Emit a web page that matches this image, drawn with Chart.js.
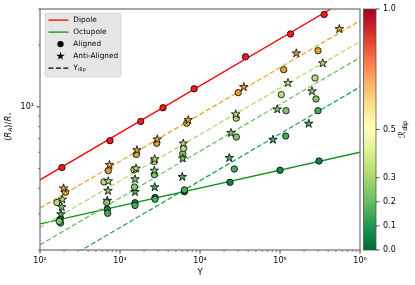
<!DOCTYPE html>
<html>
<head>
<meta charset="utf-8">
<script src="https://cdn.jsdelivr.net/npm/chart.js@4.4.1/dist/chart.umd.min.js"></script>
<style>
  html, body { margin: 0; padding: 0; background: #fff; }
  #wrap { width: 415px; height: 285px; }
</style>
</head>
<body>
<div id="wrap"><canvas id="myChart" width="415" height="285"></canvas></div>
<script>
// R_dip of each group of runs (1 = pure dipole, 0 = pure octupole)
const rdip = [1.0, 0.5, 0.3, 0.2, 0.1, 0.0];

// aligned runs (circles): Upsilon, <R_A>/R*
const alignedUps = [
  [188, 750, 1815, 3450, 8460, 37070, 135200, 356800],
  [208, 714, 1600, 2876, 6823, 30030, 111200, 298500],
  [163, 631, 1496, 2661, 6252, 28440, 103800, 273800],
  [174, 682, 1518, 2685, 6081, 28440, 118900, 281800],
  [181, 702, 1540, 2738, 6397, 26850, 117800, 298500],
  [178, 694, 1540, 2738, 6368, 23710, 100000, 307300]
];
const alignedRA = [
  [5.05, 6.83, 8.48, 9.89, 12.24, 17.54, 22.65, 28.2],
  [3.83, 4.88, 5.85, 6.64, 8.31, 11.72, 15.17, 18.78],
  [3.41, 4.30, 4.92, 5.40, 6.27, 8.80, 11.46, 13.82],
  [2.76, 3.41, 4.06, 4.67, 5.89, 7.12, 9.57, 10.92],
  [2.71, 3.02, 3.30, 3.54, 3.93, 4.97, 7.20, 9.57],
  [2.82, 3.16, 3.40, 3.61, 3.85, 4.28, 4.90, 5.44]
];

// anti-aligned runs (stars)
const antiUps = [
  [],
  [197, 739, 1631, 2926, 7140, 35280, 159900, 550800],
  [190, 714, 1585, 2716, 6180, 27930, 125900, 342000],
  [187, 708, 1540, 2685, 6081, 24410, 92470, 251200],
  [183, 694, 1540, 2716, 6012, 23230, 81750, 228600],
  []
];
const antiRA = [
  [],
  [4.00, 5.20, 6.14, 6.94, 8.62, 12.49, 18.24, 23.96],
  [3.53, 4.33, 5.00, 5.55, 6.62, 9.19, 13.07, 16.30],
  [3.24, 3.89, 4.43, 4.88, 5.60, 7.45, 9.72, 11.90],
  [2.99, 3.48, 3.84, 4.05, 4.55, 5.63, 6.91, 8.27],
  []
];

// fits: dipole (solid), Y_dip for each mixed case (dashed), octupole (solid)
const fitUps = [100, 1e6];
const fitRA = [
  [4.40, 36.4],
  [3.20, 26.3],
  [2.58, 20.8],
  [2.12, 17.4],
  [1.52, 12.5],
  [2.68, 6.00]
];

const xMajor = [1e2, 1e3, 1e4, 1e5, 1e6];
const xTickLabels = ['10²', '10³', '10⁴', '10⁵', '10⁶'];
const yMajor = [10];
const yTickLabels = ['10¹'];
const cbarTicks = [0.0, 0.1, 0.2, 0.3, 0.5, 1.0];

// styles
const pointColors = ['#f01c1c', '#dca13a', '#b6dc7c', '#7fc56c', '#46aa5d', '#17843f'];
const lineColors = ['#ff0000', '#e6a82e', '#afdb76', '#70c06a', '#2a9f5a', '#13901a'];
const cmapStops = ['#006837', '#1a9850', '#66bd63', '#a6d96a', '#d9ef8b', '#ffffbf',
                   '#fee08b', '#fdae61', '#f46d43', '#d73027', '#a50026'];
const FONT = 'DejaVu Sans';
const STAR_R = 4.5;

function minorTicks(majors, lo, hi) {
  let out = [];
  majors.forEach(m => {
    for (let k = 1; k < 10; k++) {
      let v = m * k / 10;
      if (v >= lo - 1e-9 && v <= hi + 1e-9) out.push(v);
      v = m * k;
      if (k > 1 && v >= lo - 1e-9 && v <= hi + 1e-9) out.push(v);
    }
  });
  out = out.concat(majors);
  return [...new Set(out.map(v => +v.toPrecision(6)))].sort((a, b) => a - b);
}
const xTicks = minorTicks(xMajor, 100, 1e6);
const yTicks = minorTicks(yMajor, 2, 30);

function starPath(ctx, x, y, R) {
  ctx.beginPath();
  for (let i = 0; i < 10; i++) {
    const r = i % 2 ? R * 0.382 : R;
    const a = -Math.PI / 2 + i * Math.PI / 5;
    ctx.lineTo(x + r * Math.cos(a), y + r * Math.sin(a));
  }
  ctx.closePath();
}

const datasets = [];
fitRA.forEach((ra, i) => {
  datasets.push({
    data: fitUps.map((u, j) => ({x: u, y: ra[j]})),
    showLine: true,
    borderColor: lineColors[i],
    borderWidth: 1.3,
    borderDash: (i === 0 || i === fitRA.length - 1) ? [] : [5, 2.4],
    pointRadius: 0,
    order: 2
  });
});
rdip.forEach((r, i) => {
  if (antiUps[i].length) {
    datasets.push({
      data: antiUps[i].map((u, j) => ({x: u, y: antiRA[i][j]})),
      pointStyle: false,   // drawn as filled stars by the starPoints plugin
      pointRadius: 4,
      backgroundColor: pointColors[i],
      star: true,
      order: 1
    });
  }
  datasets.push({
    data: alignedUps[i].map((u, j) => ({x: u, y: alignedRA[i][j]})),
    pointStyle: 'circle',
    pointRadius: 3.2,
    backgroundColor: pointColors[i],
    borderColor: '#000',
    borderWidth: 0.8,
    order: 1
  });
});

const starPoints = {
  id: 'starPoints',
  afterDatasetDraw(chart, args) {
    const ds = chart.data.datasets[args.index];
    if (!ds.star) return;
    const ctx = chart.ctx;
    ctx.save();
    ctx.fillStyle = ds.backgroundColor;
    ctx.strokeStyle = '#000';
    ctx.lineWidth = 0.8;
    ctx.lineJoin = 'miter';
    args.meta.data.forEach(el => {
      starPath(ctx, el.x, el.y, STAR_R);
      ctx.fill(); ctx.stroke();
    });
    ctx.restore();
  }
};

// rich text helper: parts = [text, 'r'|'i'|'sr'|'si']
function drawMath(ctx, parts, x, y, size) {
  const fontOf = p => (p[1].includes('i') ? 'italic ' : '') +
    (p[1][0] === 's' ? size * 0.7 : size) + 'px "' + FONT + '"';
  let w = 0;
  parts.forEach(p => { ctx.font = fontOf(p); w += ctx.measureText(p[0]).width; });
  let cx = x - w / 2;
  parts.forEach(p => {
    ctx.font = fontOf(p);
    ctx.fillText(p[0], cx, y + (p[1][0] === 's' ? size * 0.22 : 0));
    cx += ctx.measureText(p[0]).width;
  });
}

const decor = {
  id: 'decor',
  afterDraw(chart) {
    const {ctx, chartArea: a, scales} = chart;
    const sx = scales.x, sy = scales.y, cb = scales.cb;
    ctx.save();

    // tick marks
    ctx.strokeStyle = '#222';
    sx.ticks.forEach(t => {
      const p = sx.getPixelForValue(t.value);
      const major = xMajor.includes(t.value);
      ctx.lineWidth = major ? 0.9 : 0.6;
      ctx.beginPath(); ctx.moveTo(p, a.bottom); ctx.lineTo(p, a.bottom + (major ? 3.5 : 2)); ctx.stroke();
    });
    sy.ticks.forEach(t => {
      const p = sy.getPixelForValue(t.value);
      const major = yMajor.includes(t.value);
      ctx.lineWidth = major ? 0.9 : 0.6;
      ctx.beginPath(); ctx.moveTo(a.left, p); ctx.lineTo(a.left - (major ? 3.5 : 2), p); ctx.stroke();
    });

    // frame
    ctx.strokeStyle = '#6e6e6e';
    ctx.lineWidth = 1.2;
    ctx.strokeRect(a.left, a.top, a.right - a.left, a.bottom - a.top);

    // colorbar
    const x0 = a.right + 3.5, w = 12.5;
    const yb = cb.getPixelForValue(0), yt = cb.getPixelForValue(1);
    const grad = ctx.createLinearGradient(0, yb, 0, yt);
    cmapStops.forEach((c, i) => grad.addColorStop(i / (cmapStops.length - 1), c));
    ctx.fillStyle = grad;
    ctx.fillRect(x0, yt, w, yb - yt);
    ctx.strokeStyle = '#555';
    ctx.lineWidth = 0.8;
    ctx.strokeRect(x0, yt, w, yb - yt);
    ctx.strokeStyle = '#222';
    cbarTicks.forEach(v => {
      const p = cb.getPixelForValue(v);
      ctx.beginPath(); ctx.moveTo(x0 + w, p); ctx.lineTo(x0 + w + 3.5, p); ctx.stroke();
    });

    // axis titles
    ctx.fillStyle = '#000';
    ctx.textBaseline = 'middle';
    ctx.save();
    ctx.translate(9, (a.top + a.bottom) / 2 - 3);
    ctx.rotate(-Math.PI / 2);
    drawMath(ctx, [['⟨', 'r'], ['R', 'i'], ['A', 'si'], ['⟩', 'r'], ['/', 'r'], ['R', 'i'], ['⋆', 'sr']], 0, 0, 8.5);
    ctx.restore();
    ctx.save();
    ctx.translate(403, (a.top + a.bottom) / 2);
    ctx.rotate(-Math.PI / 2);
    drawMath(ctx, [['ℛ', 'r'], ['dip', 'sr']], 0, 0, 9);
    ctx.restore();

    // legend
    const lx = a.left + 5, ly = a.top + 4.3, lw = 76, lh = 63.5;
    ctx.fillStyle = 'rgba(229,229,229,0.95)';
    ctx.strokeStyle = '#cfcfcf';
    ctx.lineWidth = 0.8;
    ctx.beginPath();
    ctx.roundRect(lx, ly, lw, lh, 2);
    ctx.fill(); ctx.stroke();
    const rows = [
      {kind: 'line', color: lineColors[0], dash: [], text: [['Dipole', 'r']]},
      {kind: 'line', color: lineColors[5], dash: [], text: [['Octupole', 'r']]},
      {kind: 'circle', text: [['Aligned', 'r']]},
      {kind: 'star', text: [['Anti-Aligned', 'r']]},
      {kind: 'line', color: '#000', dash: [5, 2.4], text: [['Υ', 'r'], ['dip', 'sr']]}
    ];
    rows.forEach((r, i) => {
      const yy = ly + 6.8 + i * 12;
      const hx = lx + 3.5, hw = 20;
      if (r.kind === 'line') {
        ctx.strokeStyle = r.color; ctx.lineWidth = 1.3; ctx.setLineDash(r.dash);
        ctx.beginPath(); ctx.moveTo(hx, yy); ctx.lineTo(hx + hw, yy); ctx.stroke();
        ctx.setLineDash([]);
      } else if (r.kind === 'circle') {
        ctx.fillStyle = '#000';
        ctx.beginPath(); ctx.arc(hx + hw / 2 + 2, yy, 3.2, 0, Math.PI * 2); ctx.fill();
      } else {
        ctx.fillStyle = '#000';
        starPath(ctx, hx + hw / 2 + 2, yy, STAR_R);
        ctx.fill();
      }
      ctx.fillStyle = '#000';
      ctx.textAlign = 'left';
      let cx = lx + 28.3;
      r.text.forEach(p => {
        const sub = p[1][0] === 's';
        ctx.font = (sub ? 5.2 : 7.4) + 'px "' + FONT + '"';
        ctx.fillText(p[0], cx, yy + (sub ? 1.8 : 0));
        cx += ctx.measureText(p[0]).width;
      });
    });
    ctx.restore();
  }
};

const tickFont = {family: FONT, size: 8};
// tick marks are drawn by the decor plugin; tickLength only spaces the labels
const hiddenGrid = len => ({display: false, drawTicks: true, tickLength: len});
new Chart(document.getElementById('myChart'), {
  type: 'scatter',
  data: {datasets},
  options: {
    responsive: false,
    animation: false,
    layout: {padding: {top: 9, left: 0, right: 0, bottom: 0}},
    plugins: {legend: {display: false}, tooltip: {enabled: false}},
    scales: {
      x: {
        type: 'logarithmic', position: 'bottom', min: 100, max: 1e6,
        afterBuildTicks: s => { s.ticks = xTicks.map(v => ({value: v})); },
        afterFit: s => { s.height = 35; },
        grid: hiddenGrid(4),
        border: {display: false},
        ticks: {
          autoSkip: false, maxRotation: 0, padding: 2, color: '#000', font: tickFont,
          callback: v => { const k = xMajor.indexOf(v); return k >= 0 ? xTickLabels[k] : ''; }
        },
        title: {display: true, text: 'Υ', color: '#000', font: {family: FONT, size: 8.5}, padding: {top: 0, bottom: 7}}
      },
      y: {
        type: 'logarithmic', position: 'left', min: 2, max: 30,
        afterBuildTicks: s => { s.ticks = yTicks.map(v => ({value: v})); },
        afterFit: s => { s.width = 40; },
        grid: hiddenGrid(4),
        border: {display: false},
        ticks: {
          autoSkip: false, padding: 2, color: '#000', font: tickFont,
          callback: v => { const k = yMajor.indexOf(v); return k >= 0 ? yTickLabels[k] : ''; }
        }
      },
      cb: {
        type: 'linear', position: 'right', min: 0, max: 1,
        afterBuildTicks: s => { s.ticks = cbarTicks.map(v => ({value: v})); },
        afterFit: s => { s.width = 55; },
        grid: hiddenGrid(20),
        border: {display: false},
        ticks: {autoSkip: false, padding: 3, color: '#000', font: tickFont, callback: v => v.toFixed(1)}
      }
    }
  },
  plugins: [starPoints, decor]
});
</script>
</body>
</html>
